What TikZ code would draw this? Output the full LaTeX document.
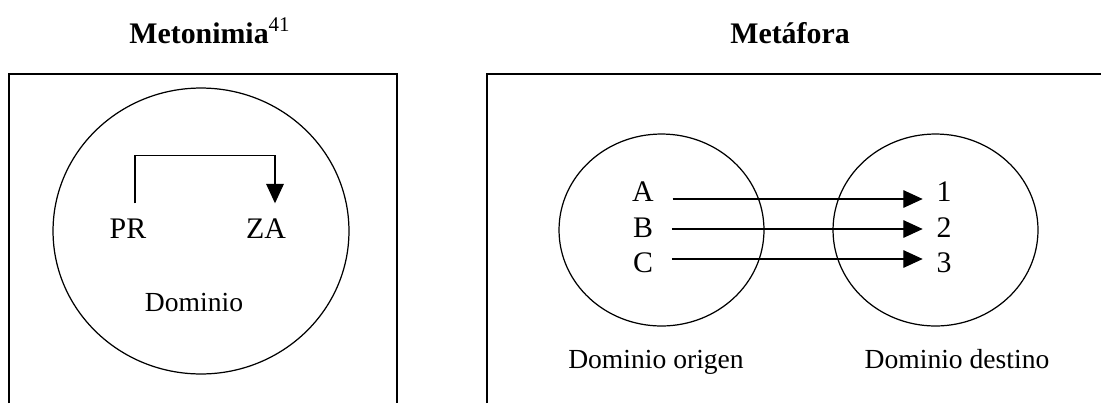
\documentclass[tikz,border=0pt]{standalone}
\usepackage{fontspec}
\setmainfont{Liberation Serif}
\usetikzlibrary{arrows.meta, positioning, shapes.geometric}

\begin{document}
\begin{tikzpicture}[
		x=0.02cm, y=-0.02cm,
		panel/.style={draw, line width=0.8pt},
		dominio/.style={ellipse, draw, line width=0.7pt, inner sep=0pt},
		letra/.style={inner sep=2pt, font=\fontsize{17}{20}\selectfont},
		rotulo/.style={inner sep=0pt, anchor=base, font=\fontsize{15.7}{19}\selectfont},
		titulo/.style={inner sep=0pt, anchor=base, font=\fontsize{17}{20}\selectfont\bfseries},
		flecha/.style={draw, line width=0.6pt, -{Triangle[length=11pt, width=10pt]}}
	]
	\useasboundingbox (0,0) rectangle (1101,403);

	% Metonimia
	\node[titulo, anchor=base west] (tmet) at (129,43) {Metonimia\textsuperscript{\mdseries 41}};
	\draw[panel] (9,403) |- (397,74) -- (397,403);
	\node[dominio, minimum width=5.92cm, minimum height=5.72cm] (dom) at (201,231) {};
	\node[letra] (PR) at (128,229) {PR};
	\node[letra] (ZA) at (266,229) {ZA};
	\node[rotulo] (dlab) at (194,311) {Dominio};
	\draw[flecha] ([shift={(7,-12)}]PR.north) -- ++(0,-48) -| ([shift={(9,-12)}]ZA.north);

	% Metafora
	\node[titulo] (tmeta) at (790,43) {Metáfora};
	\draw[panel] (487,403) |- (1101,74);
	\node[dominio, minimum width=4.1cm, minimum height=3.84cm] (orig) at (661.5,230) {};
	\node[dominio, minimum width=4.1cm, minimum height=3.84cm] (dest) at (935.5,230) {};
	\node[letra] (A) at (643,192) {A};
	\node[letra] (B) at (643,228) {B};
	\node[letra] (C) at (643,263) {C};
	\node[letra] (one) at (944,192) {1};
	\node[letra] (two) at (944,228) {2};
	\node[letra] (three) at (944,263) {3};
	\foreach \s/\t/\dy in {A/one/7, B/two/1, C/three/-4}
		\draw[flecha] ([shift={(15,\dy)}]\s.east) -- ([shift={(-10,\dy)}]\t.west);
	\node[rotulo] (olab) at (656,368) {Dominio origen};
	\node[rotulo] (dstlab) at (957,368) {Dominio destino};
\end{tikzpicture}
\end{document}
